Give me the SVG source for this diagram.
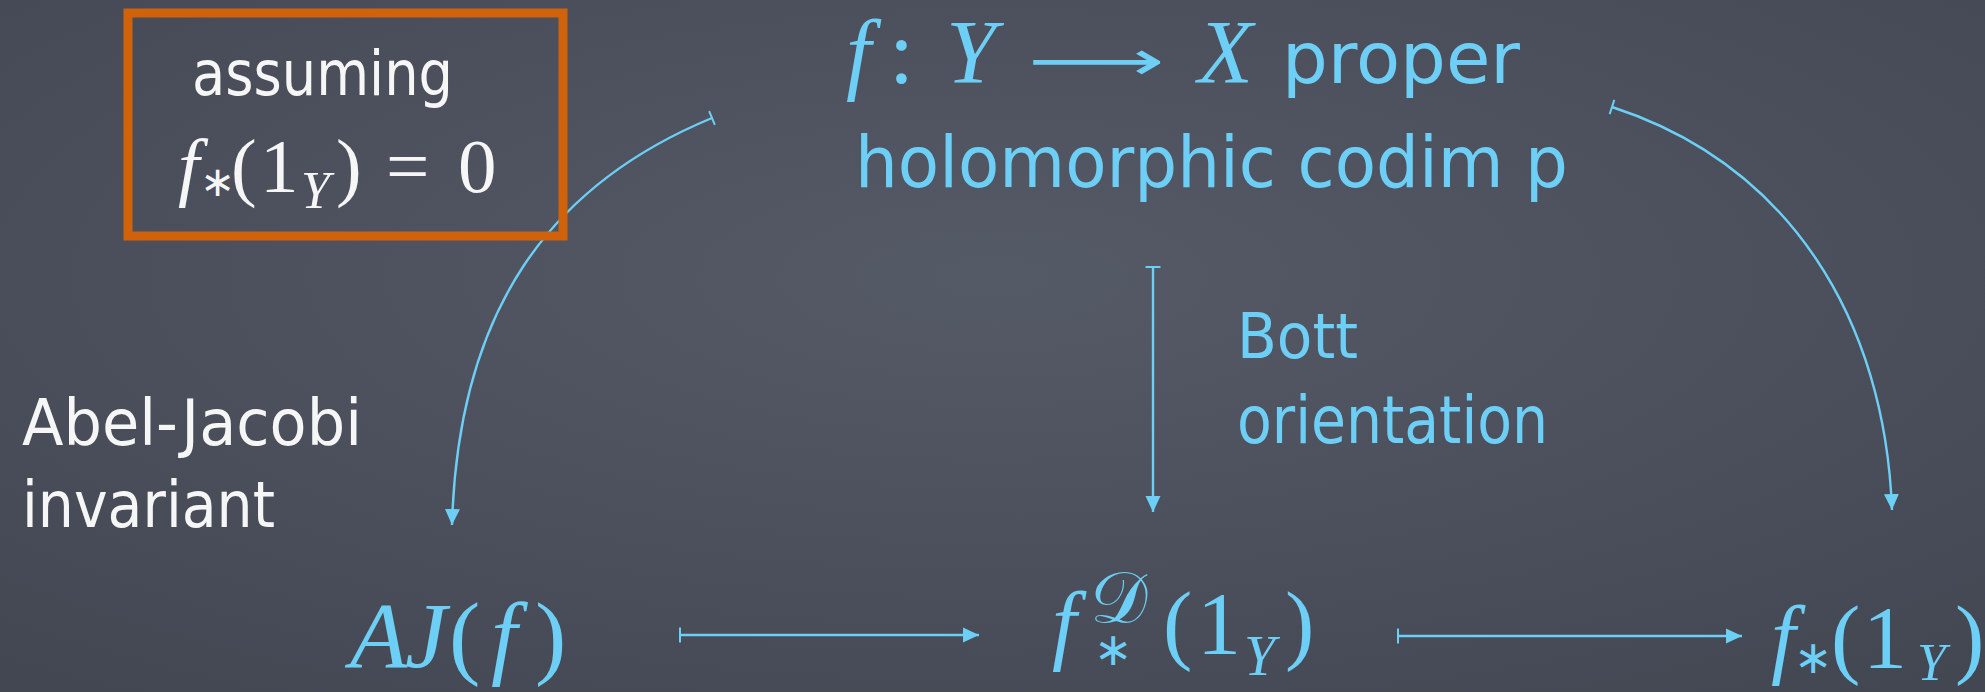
<svg xmlns="http://www.w3.org/2000/svg" width="1985" height="692" viewBox="0 0 1985 692">
<style>
.chalk{font-family:"DejaVu Sans","Noto Sans",sans-serif;}
.m{font-family:"Liberation Serif","Times New Roman",serif;}
.ast{font-family:"DejaVu Sans",sans-serif;font-style:normal;}
.i{font-style:italic;}
.w{fill:#f6f6f6;}
.c{fill:#6dcff6;}
.con{fill:none;stroke:#6dcff6;stroke-width:2.4;}
</style>
<defs>
<radialGradient id="bg" cx="50%" cy="40%" r="75%">
<stop offset="0" stop-color="#555a67"/>
<stop offset="1" stop-color="#434752"/>
</radialGradient>
<marker id="ah" markerUnits="userSpaceOnUse" markerWidth="16" markerHeight="16" viewBox="0 0 16 16" refX="16" refY="8" orient="auto">
<path d="M0,0.5 L16,8 L0,15.5 z" fill="#6dcff6"/>
</marker>
<marker id="tk" markerUnits="userSpaceOnUse" markerWidth="4" markerHeight="18" viewBox="-2 -9 4 18" refX="0" refY="0" orient="auto">
<line x1="0" y1="-7.5" x2="0" y2="7.5" stroke="#6dcff6" stroke-width="2"/>
</marker>
</defs>
<rect x="0" y="0" width="1985" height="692" fill="url(#bg)"/>

<g id="connectors">
<path class="con" d="M712,118 C550,185 458,310 452,525" marker-start="url(#tk)" marker-end="url(#ah)"/>
<path class="con" d="M1612,107 C1790,165 1885,320 1892,510" marker-start="url(#tk)" marker-end="url(#ah)"/>
<path class="con" d="M1153,267 L1153,512" marker-start="url(#tk)" marker-end="url(#ah)"/>
<path class="con" d="M680,635 L979,635" stroke-width="2.8" marker-start="url(#tk)" marker-end="url(#ah)"/>
<path class="con" d="M1398,636 L1742,636" stroke-width="2.8" marker-start="url(#tk)" marker-end="url(#ah)"/>
</g>

<g id="node-assumption">
<rect x="128" y="13" width="435" height="223" fill="none" stroke="#d0620c" stroke-width="9"/>
<text class="chalk w" x="192" y="95" font-size="62" textLength="261" lengthAdjust="spacingAndGlyphs">assuming</text>
<text class="m w" y="192" font-size="77"><tspan class="i" x="178">f</tspan><tspan class="ast" x="200" y="196" font-size="42">∗</tspan><tspan x="231" y="192">(</tspan><tspan x="260">1</tspan><tspan class="i" x="301" y="208" font-size="52">Y</tspan><tspan x="336" y="192">)</tspan><tspan x="386">=</tspan><tspan x="458">0</tspan></text>
</g>

<g id="node-source">
<text class="m c" y="83" font-size="90"><tspan class="i" x="846">f</tspan><tspan x="889">:</tspan><tspan class="i" x="946">Y</tspan><tspan class="i" x="1198">X</tspan></text>
<text class="c" x="1028" y="80" font-size="56" font-family="DejaVu Sans, sans-serif" textLength="137" lengthAdjust="spacingAndGlyphs">⟶</text>
<text class="chalk c" x="1282" y="83" font-size="72" textLength="238" lengthAdjust="spacingAndGlyphs">proper</text>
<text class="chalk c" x="855" y="187" font-size="72" textLength="713" lengthAdjust="spacingAndGlyphs">holomorphic codim p</text>
</g>

<g id="label-bott">
<text class="chalk c" x="1237" y="358" font-size="63" textLength="121" lengthAdjust="spacingAndGlyphs">Bott</text>
<text class="chalk c" x="1237" y="443" font-size="65" textLength="311" lengthAdjust="spacingAndGlyphs">orientation</text>
</g>

<g id="label-abel-jacobi">
<text class="chalk w" x="22" y="445" font-size="64" textLength="340" lengthAdjust="spacingAndGlyphs">Abel-Jacobi</text>
<text class="chalk w" x="22" y="527" font-size="64" textLength="253" lengthAdjust="spacingAndGlyphs">invariant</text>
</g>

<g id="node-aj">
<text class="m c" y="667" font-size="94"><tspan class="i" x="350">A</tspan><tspan class="i" x="405">J</tspan><tspan x="449">(</tspan><tspan class="i" x="491">f</tspan><tspan x="535">)</tspan></text>
</g>

<g id="node-fD">
<text class="m c" y="653" font-size="88"><tspan class="i" x="1052">f</tspan><tspan x="1090" y="622" font-size="72" font-family="DejaVu Serif, Noto Sans, serif">𝒟</tspan><tspan class="ast" x="1094" y="665" font-size="46">∗</tspan><tspan x="1163" y="653">(</tspan><tspan x="1197">1</tspan><tspan class="i" x="1244" y="675" font-size="56">Y</tspan><tspan x="1285" y="653">)</tspan></text>
</g>

<g id="node-fstar">
<text class="m c" y="667" font-size="88"><tspan class="i" x="1771">f</tspan><tspan class="ast" x="1794" y="673" font-size="46">∗</tspan><tspan x="1831" y="667">(</tspan><tspan x="1863">1</tspan><tspan class="i" x="1917" y="680" font-size="52">Y</tspan><tspan x="1955" y="667">)</tspan></text>
</g>
</svg>
